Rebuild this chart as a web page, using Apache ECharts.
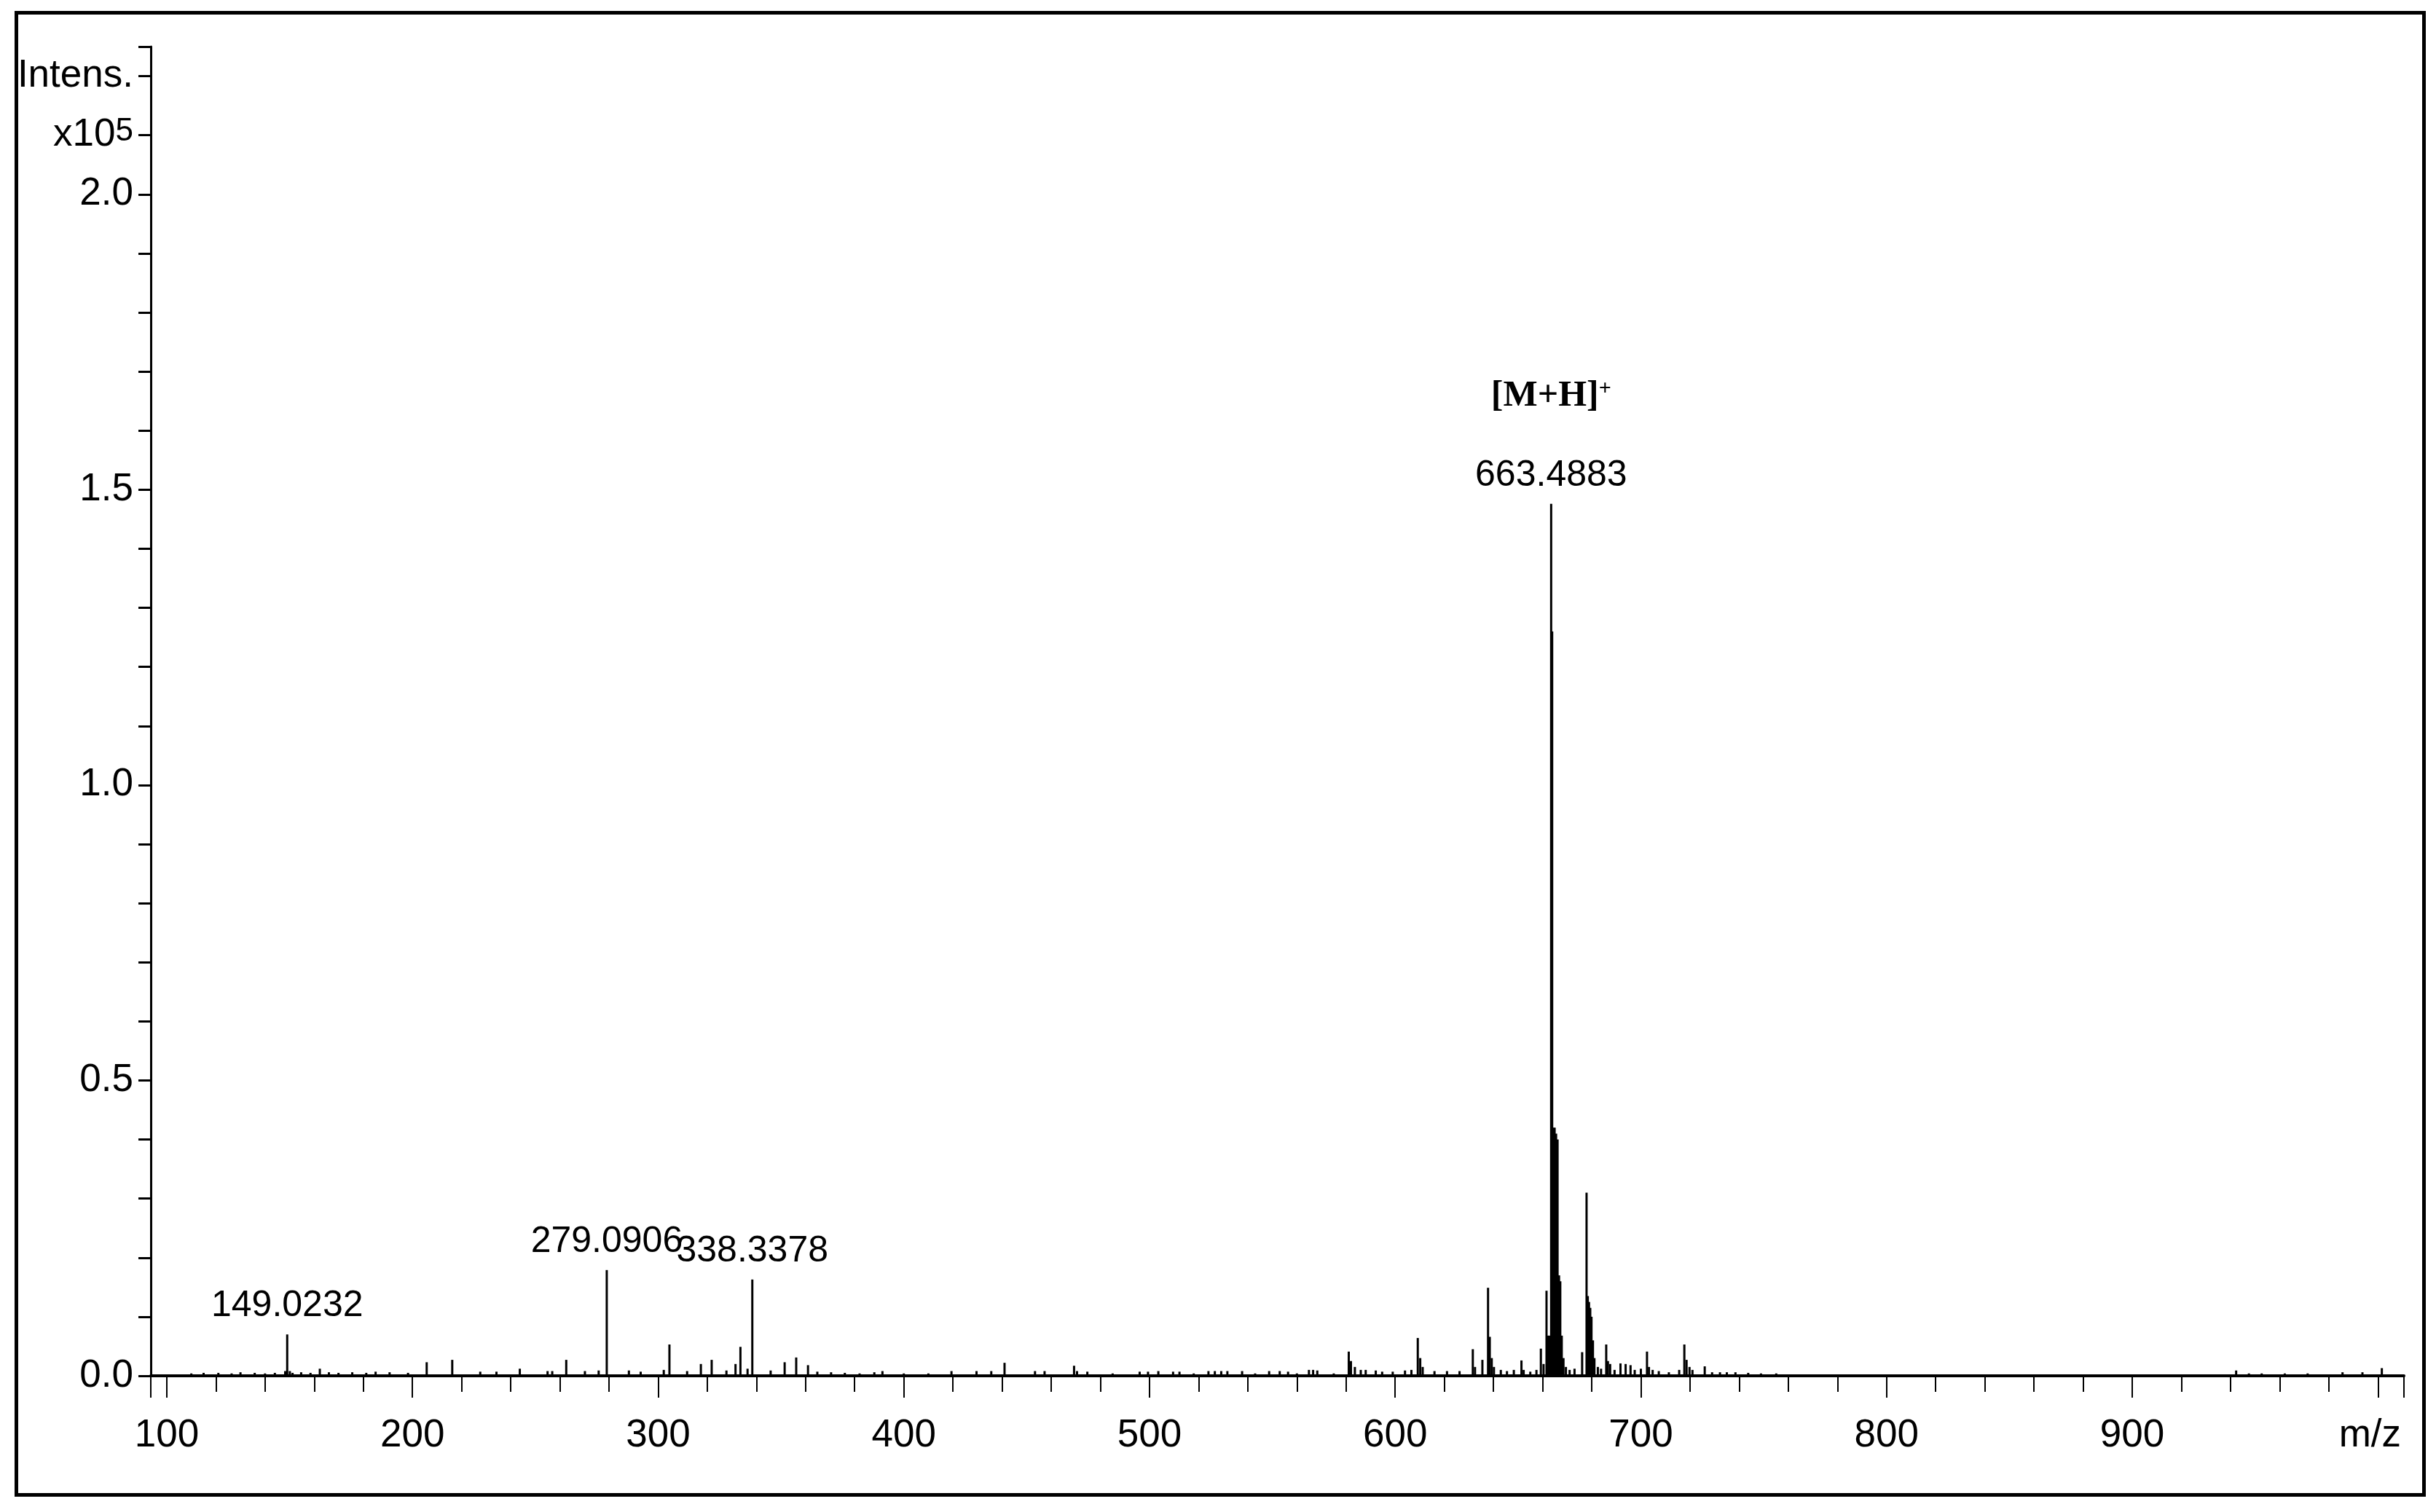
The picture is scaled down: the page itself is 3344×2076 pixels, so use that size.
<!DOCTYPE html>
<html>
<head>
<meta charset="utf-8">
<script src="https://cdn.jsdelivr.net/npm/echarts@6/dist/echarts.min.js"></script>
<style>
  html, body { margin: 0; background: #fff; }
  #chart { width: 3344px; height: 2076px; }
</style>
</head>
<body>
<div id="chart"></div>
<script>
// intensities are in units of 10^5
const labelledMz = [149.0232, 279.0906, 338.3378, 663.4883];
const labelledIntensity = [0.070, 0.179, 0.163, 1.476];
const labelledIon = ["", "", "", "[M+H]"];

// other sticks (m/z, intensity)
const peakMz = [
  110, 115, 121, 126.4, 130, 135.8, 140, 144, 148.2, 150.1, 151.2, 154.7, 158.5, 162.3, 166, 169.9,
  175.5, 181.2, 185, 190.7, 198.2, 205.8, 216.2, 227.6, 234.2, 243.7, 255, 256.9, 262.6, 270.2, 275.8,
  288.1, 292.9, 302.3, 304.6, 311.8, 317.4, 321.8, 327.8, 331.5, 333.5, 336.4, 345.8, 351.5, 356.2, 361,
  364.8, 370.4, 376, 382, 388, 391.3, 400, 410, 419.4, 429.6, 435.6, 441, 453.4, 457.3, 469.3, 470.5,
  474.7, 485, 496, 499.4, 503.6, 509.6, 512.2, 518, 524, 526.6, 529.2, 531.7, 537.7, 543, 548.7, 553,
  556.4, 560, 564.9, 566.6, 568.3, 575, 581.1, 582, 583.6, 586, 588, 592.1, 594.7, 599, 604, 606.6,
  609.2, 610.2, 611.2, 616, 621.1, 626.2, 631.6, 632.5, 635.5, 637.8, 638.5, 639.3, 640.2, 643, 645.5,
  648.3, 651.4, 652.3, 655, 657.5,
  659.3, 660.4, 661.6, 662.2, 662.8, 663.9, 664.3, 664.9, 665.5, 666.1, 666.7, 667.2, 667.8, 668.5,
  669.5, 671, 673, 676.1, 677.9, 678.4, 678.9, 679.4, 679.9, 680.5, 681.1, 682.5, 683.8, 685.9, 686.6,
  687.5, 689.3, 691.7, 693.8, 695.8, 697.5, 700, 702.5, 703.3, 704.8, 707.3, 711.4, 715.6, 717.7, 718.6,
  719.8, 721, 726, 729, 732.2, 735, 738.5, 743.7, 748.9, 755.1, 942.3, 947.5, 952.7, 962.1, 971.4,
  985.6, 993.7, 1001.6
];
const peakIntensity = [
  0.004, 0.005, 0.005, 0.004, 0.006, 0.005, 0.004, 0.005, 0.008, 0.008, 0.005, 0.006, 0.005, 0.012, 0.006, 0.005,
  0.006, 0.005, 0.007, 0.006, 0.005, 0.023, 0.027, 0.007, 0.007, 0.012, 0.008, 0.008, 0.027, 0.008, 0.009,
  0.009, 0.007, 0.010, 0.053, 0.008, 0.020, 0.027, 0.009, 0.020, 0.049, 0.012, 0.009, 0.023, 0.031, 0.018,
  0.007, 0.006, 0.005, 0.004, 0.006, 0.008, 0.004, 0.004, 0.008, 0.008, 0.008, 0.022, 0.008, 0.008, 0.017, 0.008,
  0.007, 0.004, 0.007, 0.007, 0.008, 0.007, 0.007, 0.004, 0.008, 0.008, 0.008, 0.008, 0.008, 0.004, 0.008, 0.008,
  0.007, 0.004, 0.010, 0.010, 0.009, 0.004, 0.041, 0.025, 0.015, 0.010, 0.010, 0.009, 0.007, 0.007, 0.009, 0.010,
  0.064, 0.030, 0.015, 0.008, 0.008, 0.008, 0.045, 0.015, 0.027, 0.149, 0.066, 0.030, 0.015, 0.010, 0.008,
  0.010, 0.026, 0.010, 0.007, 0.010,
  0.046, 0.020, 0.144, 0.068, 0.068, 1.260, 0.420, 0.420, 0.410, 0.400, 0.170, 0.160, 0.068, 0.030,
  0.015, 0.010, 0.012, 0.040, 0.310, 0.135, 0.125, 0.115, 0.100, 0.060, 0.030, 0.015, 0.012, 0.053, 0.025,
  0.020, 0.010, 0.021, 0.020, 0.018, 0.010, 0.012, 0.041, 0.015, 0.010, 0.008, 0.006, 0.010, 0.053, 0.027,
  0.015, 0.010, 0.016, 0.006, 0.006, 0.006, 0.006, 0.005, 0.004, 0.004, 0.009, 0.004, 0.004, 0.004, 0.004,
  0.006, 0.006, 0.013
];

// tick labels
const xLabelValues = [100, 200, 300, 400, 500, 600, 700, 800, 900];
const yLabelValues = [0, 0.5, 1.0, 1.5, 2.0, 2.1, 2.2];
const yLabelTexts = ["0.0", "0.5", "1.0", "1.5", "2.0", "{a|x10}{s|5}", "Intens."];

const SANS = '"Liberation Sans", Arial, sans-serif';
const SERIF = '"Liberation Serif", "Times New Roman", serif';

const chart = echarts.init(document.getElementById("chart"), null, { renderer: "canvas" });

const data = peakMz.map((m, i) => [m, peakIntensity[i]]);
labelledMz.forEach((m, i) => {
  const txt = m.toFixed(4);
  data.push({
    value: [m, labelledIntensity[i]],
    label: {
      show: true,
      formatter: labelledIon[i] ? "{ion|" + labelledIon[i] + "}{sup|+}\n{gap|" + txt + "}" : "{num|" + txt + "}",
    },
  });
});

chart.setOption({
  animation: false,
  backgroundColor: "#fff",
  grid: { left: 207, right: 44, top: 64, bottom: 187, outerBoundsMode: "none" },
  xAxis: {
    type: "value",
    min: 93.5,
    max: 1010.6,
    splitNumber: 9,
    splitLine: { show: false },
    axisLine: { onZero: false, lineStyle: { color: "#000", width: 4 } },
    axisTick: { length: 30, lineStyle: { color: "#000", width: 2 } },
    minorTick: { show: true, splitNumber: 5, length: 22, lineStyle: { color: "#000", width: 2 } },
    minorSplitLine: { show: false },
    axisLabel: {
      showMinLabel: false, showMaxLabel: false, margin: 56,
      color: "#000", fontSize: 53, fontFamily: SANS,
      formatter: (v) => (xLabelValues.includes(Math.round(v)) ? String(Math.round(v)) : ""),
    },
    name: "m/z",
    nameLocation: "end",
    nameGap: -4,
    nameMoveOverlap: false,
    nameTextStyle: {
      color: "#000", fontSize: 53, fontFamily: SANS,
      align: "right", verticalAlign: "top", padding: [56, 0, 0, 0],
    },
  },
  yAxis: {
    type: "value",
    min: 0,
    max: 2.25,
    interval: 0.1,
    splitLine: { show: false },
    axisLine: { show: true, lineStyle: { color: "#000", width: 3 } },
    axisTick: { show: true, length: 17, lineStyle: { color: "#000", width: 3 } },
    axisLabel: {
      margin: 24,
      color: "#000", fontSize: 53, fontFamily: SANS,
      formatter: (v) => {
        const i = yLabelValues.findIndex((t) => Math.abs(t - v) < 1e-6);
        return i < 0 ? "" : yLabelTexts[i];
      },
      rich: {
        a: { color: "#000", fontSize: 53, fontFamily: SANS },
        s: { color: "#000", fontSize: 44, fontFamily: SANS, verticalAlign: "top" },
      },
    },
  },
  series: [{
    type: "bar",
    barWidth: 3,
    itemStyle: { color: "#000" },
    data: data,
    label: {
      show: false,
      position: "top",
      distance: 14,
      color: "#000",
      fontSize: 50,
      fontFamily: SANS,
      rich: {
        num: { color: "#000", fontSize: 50, fontFamily: SANS },
        gap: { color: "#000", fontSize: 50, fontFamily: SANS, padding: [59, 0, 0, 0] },
        ion: { color: "#000", fontSize: 50, fontWeight: "bold", fontFamily: SERIF },
        sup: { color: "#000", fontSize: 30, fontWeight: "bold", fontFamily: SERIF, verticalAlign: "top" },
      },
    },
  }],
  graphic: [{
    type: "rect",
    silent: true,
    shape: { x: 22.5, y: 17.5, width: 3305, height: 2035 },
    style: { fill: null, stroke: "#000", lineWidth: 5 },
  }],
});
</script>
</body>
</html>
